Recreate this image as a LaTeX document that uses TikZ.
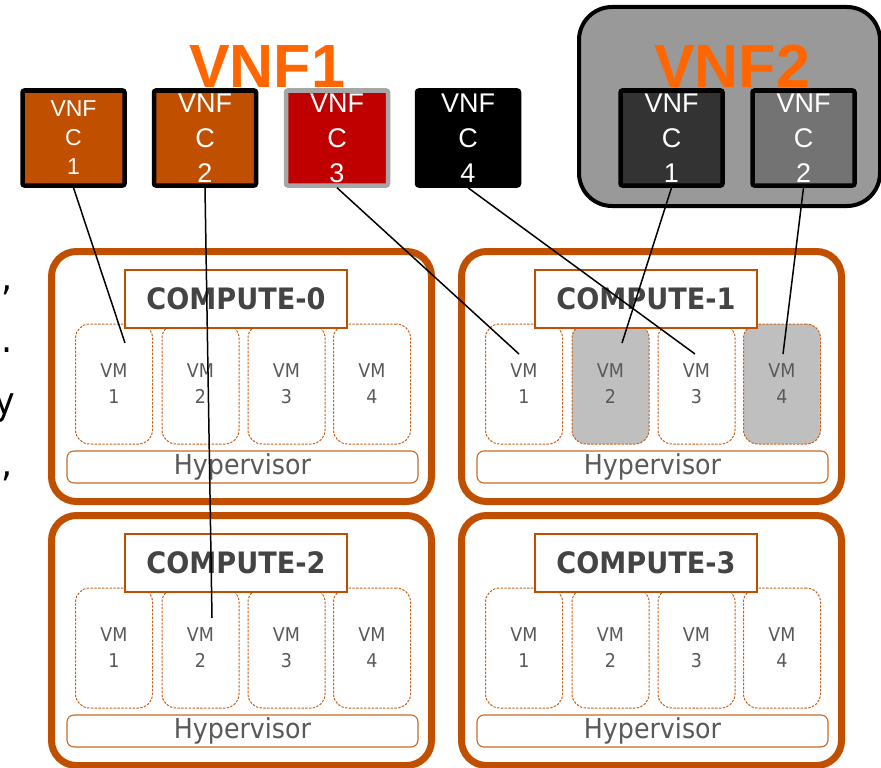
\documentclass[tikz,border=0pt]{standalone}
\usepackage{fontspec}
\setmainfont{Liberation Sans}
\newfontfamily\hostfont[FakeStretch=0.92]{DejaVu Sans}

\definecolor{rust}{RGB}{192,80,0}
\definecolor{vnforange}{RGB}{255,102,0}
\definecolor{vred}{RGB}{192,0,0}
\definecolor{lgray}{RGB}{166,166,166}
\definecolor{grpgray}{RGB}{153,153,153}
\definecolor{dkgray}{RGB}{51,51,51}
\definecolor{mdgray}{RGB}{115,115,115}
\definecolor{vmshade}{RGB}{191,191,191}
\definecolor{txtgray}{RGB}{89,89,89}
\definecolor{cmpgray}{RGB}{68,68,68}

\tikzset{
  vnfc/.style={draw=black, line width=4.5pt, rounded corners=2pt,
    minimum width=102pt, minimum height=95pt, inner sep=0pt,
    text=white, align=center, font=\fontsize{27}{35}\selectfont},
  vnfcsmall/.style={vnfc, font=\fontsize{23}{29}\selectfont},
  vnftitle/.style={text=vnforange, anchor=base, inner sep=0pt,
    font=\bfseries\fontsize{61}{61}\selectfont},
  hostbox/.style={draw=rust, line width=7pt, rounded corners=25pt, fill=white,
    minimum width=380pt, minimum height=250pt, inner sep=0pt},
  titlebox/.style={draw=rust, line width=1.5pt, fill=white,
    minimum width=222pt, minimum height=58pt, inner sep=0pt, text=cmpgray,
    font=\hostfont\bfseries\fontsize{29.5}{29.5}\selectfont},
  vmbox/.style={draw=rust!90, line width=1pt, dash pattern=on 2.4pt off 1.4pt,
    rounded corners=14pt, minimum width=77pt, minimum height=120pt,
    inner sep=0pt, align=center, text=txtgray,
    font=\hostfont\fontsize{19}{26}\selectfont},
  hvbox/.style={draw=rust!85, line width=1.1pt, rounded corners=7pt, fill=white,
    minimum width=351pt, minimum height=32pt, inner sep=0pt, text=txtgray,
    font=\hostfont\fontsize{27.5}{27.5}\selectfont},
  link/.style={draw=black, line width=1.5pt},
  frag/.style={anchor=base east, inner sep=0pt, text=black,
    font=\hostfont\fontsize{38}{38}\selectfont}
}

\begin{document}
\begin{tikzpicture}[x=1pt, y=-1pt]
  \useasboundingbox (0,0) rectangle (881,768);

  % clipped text at the left margin
  \node[frag] (frag1) at (13,290) {,};
  \node[frag] (frag2) at (13,352) {.};
  \node[frag] (frag3) at (15,414) {y};
  \node[frag] (frag4) at (13,476) {y,};

  % VNF2 grouping
  \draw[fill=grpgray, draw=black, line width=4pt, rounded corners=33pt]
    (579,7) rectangle (880,206);

  % VNF labels (partly hidden by the component boxes)
  \node[vnftitle] (vnf1) at (267,88) {VNF1};
  \node[vnftitle] (vnf2) at (732,88) {VNF2};

  % VNF components
  \node[vnfcsmall, fill=rust] (a1) at (73.5,138) {VNF\\C\\1};
  \node[vnfc, fill=rust] (a2) at (205,138) {VNF\\C\\2};
  \node[vnfc, fill=vred, draw=lgray] (a3) at (337,138) {VNF\\C\\3};
  \node[vnfc, fill=black] (a4) at (468,138) {VNF\\C\\4};
  \node[vnfc, fill=dkgray] (b1) at (671.5,138) {VNF\\C\\1};
  \node[vnfc, fill=mdgray] (b2) at (803.5,138) {VNF\\C\\2};

  % compute hosts
  \foreach \h/\ox/\oy/\fa/\fb/\fc/\fd in {0/0/0/white/white/white/white,
      1/410/0/white/vmshade/white/vmshade,
      2/0/264/white/white/white/white,
      3/410/264/white/white/white/white} {
    \begin{scope}[shift={(\ox,\oy)}]
      \node[hostbox] (host\h) at (241.5,376.5) {};
      \foreach \v/\cx/\vf in {1/114/\fa, 2/200.5/\fb, 3/286.5/\fc, 4/372/\fd}
        \node[vmbox, fill=\vf] (vm\h\v) at (\cx,384) {VM\\\v};
      \node[titlebox] (title\h) at (236,299) {COMPUTE-\h};
      \node[hvbox] (hv\h) at (242.5,467) {Hypervisor};
    \end{scope}
  }

  % placement points inside the VMs
  \coordinate (p01) at (125,343);
  \coordinate (p22) at (212,618);
  \coordinate (p11) at (519,354);
  \coordinate (p13) at (695,354);
  \coordinate (p12) at (622,343);
  \coordinate (p14) at (783,354);

  % component-to-VM mapping
  \draw[link] (a1.south) -- (p01);
  \draw[link] (a2.south) -- (p22);
  \draw[link] (a3.south) -- (p11);
  \draw[link] (a4.south) -- (p13);
  \draw[link] (b1.south) -- (p12);
  \draw[link] (b2.south) -- (p14);
\end{tikzpicture}
\end{document}
